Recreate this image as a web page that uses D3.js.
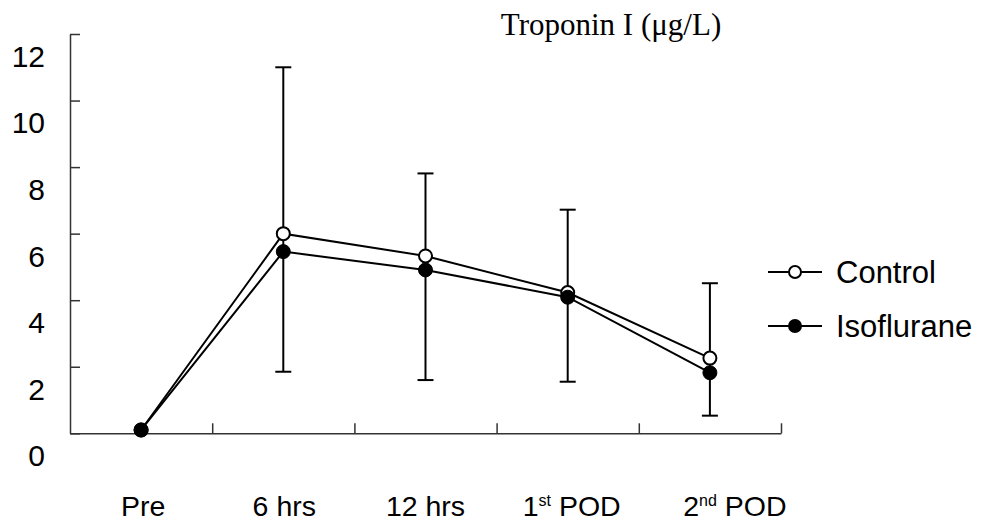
<!DOCTYPE html>
<html>
<head>
<meta charset="utf-8">
<script src="https://cdn.jsdelivr.net/npm/d3@7"></script>
<style>
  html, body { margin: 0; padding: 0; background: #fff; }
  svg { display: block; }
</style>
</head>
<body>
<svg id="chart" width="985" height="527"></svg>
<script>
// Time points on the x axis
const categories = ["Pre", "6 hrs", "12 hrs", "1st POD", "2nd POD"];
// Superscript pieces of each category label: [lead, sup, tail]
const categoryParts = [["Pre", "", ""], ["6 hrs", "", ""], ["12 hrs", "", ""], ["1", "st", " POD"], ["2", "nd", " POD"]];

// Mean troponin I (µg/L)
const controlMean = [0.1, 6.0, 5.33, 4.23, 2.26];
const isofluraneMean = [0.1, 5.46, 4.91, 4.09, 1.82];
// Standard deviations: Control drawn upward, Isoflurane downward
const controlSD = [0, 5.0, 2.48, 2.49, 2.25];
const isofluraneSD = [0, 3.61, 3.31, 2.54, 1.29];

const yTicks = [0, 2, 4, 6, 8, 10, 12];
const yTickLabels = ["0", "2", "4", "6", "8", "10", "12"];

const seriesNames = ["Control", "Isoflurane"];
const title = "Troponin I (\u03bcg/L)";

const svg = d3.select("#chart");
const plotLeft = 70, plotRight = 781, plotTop = 34, plotBottom = 433.3;
// Horizontal nudge of the category labels relative to their band centres
const labelNudge = [2, 1, 0, 4, 25];

const x = d3.scaleBand().domain(categories).range([plotLeft, plotRight]).padding(0);
const xEdge = d3.scaleLinear().domain([0, categories.length]).range([plotLeft, plotRight]);
const y = d3.scaleLinear().domain([0, 12]).range([plotBottom, plotTop]);
const cx = c => x(c) + x.bandwidth() / 2;

const axisColor = "#333";
const sans = "Liberation Sans, Arial, sans-serif";

// Y axis: ticks point inward, labels sit below their ticks
const yAxis = svg.append("g")
  .attr("transform", `translate(${plotLeft},0)`)
  .call(d3.axisLeft(y).tickValues(yTicks).tickSize(-10).tickSizeOuter(0)
    .tickFormat((d, i) => yTickLabels[i]));
yAxis.select(".domain").attr("stroke", axisColor).attr("stroke-width", 1.5);
yAxis.selectAll(".tick line").attr("stroke", axisColor).attr("stroke-width", 1.5);
yAxis.selectAll(".tick text")
  .attr("x", -25).attr("dy", "1.08em")
  .attr("font-family", sans)
  .attr("font-size", 30).attr("fill", "#000");

// X axis: tick marks on category boundaries, pointing upward
const xAxis = svg.append("g")
  .attr("transform", `translate(0,${plotBottom})`)
  .call(d3.axisBottom(xEdge).tickValues(d3.range(1, categories.length + 1)).tickSize(-10)
    .tickSizeOuter(0).tickFormat(""));
xAxis.select(".domain").attr("stroke", axisColor).attr("stroke-width", 1.5);
xAxis.selectAll(".tick line").attr("stroke", axisColor).attr("stroke-width", 1.5);

// Category labels with superscripts
const xl = svg.append("g")
  .attr("font-family", sans)
  .attr("font-size", 28.5).attr("fill", "#000");
categories.forEach((c, i) => {
  const [lead, sup, tail] = categoryParts[i];
  const t = xl.append("text").attr("x", cx(c) + labelNudge[i]).attr("y", 516).attr("text-anchor", "middle");
  t.append("tspan").text(lead);
  if (sup) {
    t.append("tspan").attr("font-size", 16).attr("dy", -10).text(sup);
    t.append("tspan").attr("dy", 10).text(tail);
  }
});

// Title
svg.append("text")
  .attr("x", 611).attr("y", 35).attr("text-anchor", "middle")
  .attr("font-family", "Liberation Serif, Times New Roman, serif")
  .attr("font-size", 31).attr("fill", "#000")
  .text(title);

const line = d3.line().x((d, i) => cx(categories[i])).y(d => y(d));

// Series lines
[controlMean, isofluraneMean].forEach(s => {
  svg.append("path").datum(s).attr("d", line)
    .attr("fill", "none").attr("stroke", "#000").attr("stroke-width", 2);
});

// Error bars: from Control mean + SD to Isoflurane mean - SD
const capHalf = 8;
const eb = svg.append("g").attr("stroke", "#000").attr("stroke-width", 2);
categories.forEach((c, i) => {
  if (controlSD[i] === 0 && isofluraneSD[i] === 0) return;
  const hi = y(controlMean[i] + controlSD[i]);
  const lo = y(isofluraneMean[i] - isofluraneSD[i]);
  const xc = cx(c);
  eb.append("line").attr("x1", xc).attr("x2", xc).attr("y1", hi).attr("y2", lo);
  eb.append("line").attr("x1", xc - capHalf).attr("x2", xc + capHalf).attr("y1", hi).attr("y2", hi);
  eb.append("line").attr("x1", xc - capHalf).attr("x2", xc + capHalf).attr("y1", lo).attr("y2", lo);
});

// Markers: open circles for Control, filled for Isoflurane
svg.append("g").selectAll("circle").data(controlMean).join("circle")
  .attr("cx", (d, i) => cx(categories[i])).attr("cy", d => y(d)).attr("r", 6.5)
  .attr("fill", "#fff").attr("stroke", "#000").attr("stroke-width", 2);
svg.append("g").selectAll("circle").data(isofluraneMean).join("circle")
  .attr("cx", (d, i) => cx(categories[i])).attr("cy", d => y(d)).attr("r", 7)
  .attr("fill", "#000").attr("stroke", "#000").attr("stroke-width", 1);

// Legend
const legendY = [272, 326];
const lg = svg.append("g");
seriesNames.forEach((name, i) => {
  const ly = legendY[i];
  lg.append("line").attr("x1", 768).attr("x2", 822).attr("y1", ly).attr("y2", ly)
    .attr("stroke", "#000").attr("stroke-width", 2);
  lg.append("circle").attr("cx", 795).attr("cy", ly).attr("r", 6)
    .attr("fill", i === 0 ? "#fff" : "#000").attr("stroke", "#000").attr("stroke-width", 2);
  lg.append("text").attr("x", 836).attr("y", ly + 10.5)
    .attr("font-family", sans)
    .attr("font-size", 31).attr("fill", "#000").text(name);
});
</script>
</body>
</html>
